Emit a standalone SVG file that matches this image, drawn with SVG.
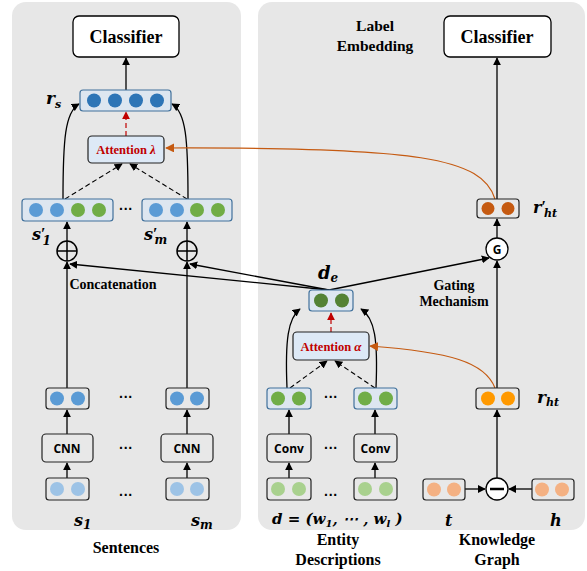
<svg xmlns="http://www.w3.org/2000/svg" width="587" height="571" viewBox="0 0 587 571">
<defs>
<marker id="ah" viewBox="0 0 10 10" refX="9" refY="5" markerWidth="8" markerHeight="8" markerUnits="userSpaceOnUse" orient="auto"><path d="M0,0 L10,5 L0,10 z" fill="#000"/></marker>
<marker id="ahr" viewBox="0 0 10 10" refX="9" refY="5" markerWidth="8" markerHeight="8" markerUnits="userSpaceOnUse" orient="auto"><path d="M0,0 L10,5 L0,10 z" fill="#c00000"/></marker>
<marker id="aho" viewBox="0 0 10 10" refX="9" refY="5" markerWidth="9" markerHeight="9" markerUnits="userSpaceOnUse" orient="auto"><path d="M0,0 L10,5 L0,10 z" fill="#c55a11"/></marker>
</defs>
<style>
.panel{fill:#e7e7e7;stroke:none}
.cls{fill:#fff;stroke:#000;stroke-width:1.3}
.ttl{font-family:"Liberation Serif",serif;font-weight:bold;font-size:18px;text-anchor:middle}
.lbl{font-family:"Liberation Serif",serif;font-weight:bold;font-size:14px;text-anchor:middle}
.big{font-size:16px}
.mid{font-size:15.5px}
.math{font-family:"DejaVu Serif","Liberation Serif",serif;font-weight:bold;font-style:italic;font-size:15px}
.pr{font-family:"Liberation Serif",serif;font-style:normal;font-weight:bold;font-size:16px}
.vb{fill:#dde6f0;stroke:#41719c;stroke-width:1.2}
.vk{fill:#e8e8e8;stroke:#222;stroke-width:1.2}
.op{fill:#e8e8e8;stroke:#222;stroke-width:1.2}
.opt{font-family:"Open Sans","Liberation Sans",sans-serif;font-weight:bold;font-size:12px;text-anchor:middle}
.att{fill:#dde9f6;stroke:#222;stroke-width:1.2}
.attt{font-family:"Liberation Serif",serif;font-weight:bold;font-size:12.5px;fill:#c00000;text-anchor:middle}
.dots{font-family:"Liberation Sans",sans-serif;font-weight:bold;font-size:14px;text-anchor:middle}
.ln{fill:none;stroke:#000;stroke-width:1.3}
.dash{fill:none;stroke:#000;stroke-width:1.1;stroke-dasharray:5,3}
.rdash{fill:none;stroke:#c00000;stroke-width:1.2;stroke-dasharray:5,3}
.orn{fill:none;stroke:#c55a11;stroke-width:1.2}
.c1{fill:#2e75b6}.c2{fill:#5b9bd5}.c3{fill:#70ad47}.c4{fill:#9dc3e6}.c5{fill:#548235}.c6{fill:#a9d18e}.c7{fill:#c55a11}.c8{fill:#ff9900}.c9{fill:#f4b183}
</style>
<rect class="panel" x="12" y="2" width="229" height="528" rx="14"/>
<rect class="panel" x="258" y="2" width="327" height="528" rx="14"/>

<g id="connectors">
<line class="ln" x1="126" y1="90" x2="126" y2="58" marker-end="url(#ah)"/>
<line class="rdash" x1="126" y1="136" x2="126" y2="112" marker-end="url(#ahr)"/>
<line class="dash" x1="65" y1="199" x2="122" y2="164" marker-end="url(#ah)"/>
<line class="dash" x1="187" y1="199" x2="130" y2="164" marker-end="url(#ah)"/>
<path class="ln" d="M63 199 C63 140 65 112 79 104" marker-end="url(#ah)"/>
<path class="ln" d="M188 199 C188 140 186 112 172 104" marker-end="url(#ah)"/>
<line class="ln" x1="67" y1="241" x2="67" y2="222" marker-end="url(#ah)"/>
<line class="ln" x1="187" y1="241" x2="187" y2="222" marker-end="url(#ah)"/>
<line class="ln" x1="67" y1="388" x2="67" y2="262" marker-end="url(#ah)"/>
<line class="ln" x1="187" y1="388" x2="187" y2="262" marker-end="url(#ah)"/>
<line class="ln" x1="329" y1="290" x2="70" y2="264" marker-end="url(#ah)"/>
<line class="ln" x1="329" y1="290" x2="190" y2="264" marker-end="url(#ah)"/>
<line class="ln" x1="329" y1="290" x2="489" y2="258" marker-end="url(#ah)"/>
<line class="ln" x1="67" y1="434" x2="67" y2="410" marker-end="url(#ah)"/>
<line class="ln" x1="187" y1="434" x2="187" y2="410" marker-end="url(#ah)"/>
<line class="ln" x1="67" y1="478" x2="67" y2="463" marker-end="url(#ah)"/>
<line class="ln" x1="187" y1="478" x2="187" y2="463" marker-end="url(#ah)"/>
<line class="ln" x1="289" y1="434" x2="289" y2="410" marker-end="url(#ah)"/>
<line class="ln" x1="375" y1="434" x2="375" y2="410" marker-end="url(#ah)"/>
<line class="ln" x1="289" y1="478" x2="289" y2="463" marker-end="url(#ah)"/>
<line class="ln" x1="375" y1="478" x2="375" y2="463" marker-end="url(#ah)"/>
<line class="rdash" x1="331" y1="332" x2="331" y2="313" marker-end="url(#ahr)"/>
<line class="dash" x1="290" y1="388" x2="327" y2="361" marker-end="url(#ah)"/>
<line class="dash" x1="375" y1="388" x2="335" y2="361" marker-end="url(#ah)"/>
<path class="ln" d="M287 388 C285 340 288 318 300 309" marker-end="url(#ah)"/>
<path class="ln" d="M376 388 C378 340 375 318 361 309" marker-end="url(#ah)"/>
<line class="ln" x1="497" y1="199" x2="497" y2="58" marker-end="url(#ah)"/>
<line class="ln" x1="497" y1="238" x2="497" y2="219" marker-end="url(#ah)"/>
<line class="ln" x1="497" y1="388" x2="497" y2="261" marker-end="url(#ah)"/>
<line class="ln" x1="497" y1="478" x2="497" y2="410" marker-end="url(#ah)"/>
<line class="ln" x1="465" y1="489" x2="485" y2="489" marker-end="url(#ah)"/>
<line class="ln" x1="532" y1="489" x2="509" y2="489" marker-end="url(#ah)"/>
<path class="orn" d="M495 199 C482 158 420 147 166 148" marker-end="url(#aho)"/>
<path class="orn" d="M495 388 C485 362 450 352 370 346" marker-end="url(#aho)"/>
</g>

<g id="classifier-left"><rect class="cls" x="73" y="16" width="106" height="41" rx="6"/><text class="ttl" x="126" y="42.5">Classifier</text></g>
<g id="rs"><rect class="vb" x="80" y="90" width="91" height="21" rx="3"/>
<circle class="c1" cx="94" cy="100.5" r="7"/><circle class="c1" cx="115" cy="100.5" r="7"/><circle class="c1" cx="136" cy="100.5" r="7"/><circle class="c1" cx="157" cy="100.5" r="7"/>
<text class="math" x="46" y="104" style="font-size:17px">r<tspan font-size="11" dy="4">s</tspan></text></g>
<g id="attention-lambda"><rect class="att" x="88" y="136" width="76" height="27" rx="4"/><text class="attt" x="126" y="154">Attention <tspan font-style="italic" font-size="13">λ</tspan></text></g>
<g id="s1p"><rect class="vb" x="22" y="199" width="91" height="22" rx="3"/>
<circle class="c2" cx="36" cy="210" r="7"/><circle class="c2" cx="57" cy="210" r="7"/><circle class="c3" cx="78" cy="210" r="7"/><circle class="c3" cx="99" cy="210" r="7"/>
<text class="math" x="32" y="240" style="font-size:16px">s<tspan class="pr" dy="-1">′</tspan><tspan font-size="12" dx="-3" dy="6">1</tspan></text></g>
<text class="dots" x="126" y="214">···</text>
<g id="smp"><rect class="vb" x="142" y="199" width="90" height="22" rx="3"/>
<circle class="c2" cx="156" cy="210" r="7"/><circle class="c2" cx="177" cy="210" r="7"/><circle class="c3" cx="197" cy="210" r="7"/><circle class="c3" cx="218" cy="210" r="7"/>
<text class="math" x="144" y="240" style="font-size:16px">s<tspan class="pr" dy="-1">′</tspan><tspan font-size="12" dx="-3" dy="5">m</tspan></text></g>
<g id="oplus1"><circle cx="67" cy="251" r="10" fill="none" stroke="#000" stroke-width="1.5"/><line x1="57" y1="251" x2="77" y2="251" stroke="#000" stroke-width="1.5"/><line x1="67" y1="241" x2="67" y2="261" stroke="#000" stroke-width="1.5"/></g>
<g id="oplus2"><circle cx="187" cy="251" r="10" fill="none" stroke="#000" stroke-width="1.5"/><line x1="177" y1="251" x2="197" y2="251" stroke="#000" stroke-width="1.5"/><line x1="187" y1="241" x2="187" y2="261" stroke="#000" stroke-width="1.5"/></g>
<text class="lbl" x="113" y="289">Concatenation</text>

<g id="h1"><rect class="vk" x="46" y="388" width="43" height="21" rx="3"/><circle class="c2" cx="57" cy="398.5" r="7"/><circle class="c2" cx="78" cy="398.5" r="7"/></g>
<g id="hm"><rect class="vk" x="166" y="388" width="43" height="21" rx="3"/><circle class="c2" cx="177" cy="398.5" r="7"/><circle class="c2" cx="197" cy="398.5" r="7"/></g>
<text class="dots" x="126" y="402">···</text>
<g id="cnn1"><rect class="op" x="42" y="434" width="51" height="28" rx="4"/><text class="opt" x="67" y="452.5">CNN</text></g>
<g id="cnnm"><rect class="op" x="161" y="434" width="52" height="28" rx="4"/><text class="opt" x="187" y="452.5">CNN</text></g>
<text class="dots" x="126" y="453">···</text>
<g id="x1"><rect class="vk" x="46" y="478" width="43" height="22" rx="3"/><circle class="c4" cx="57" cy="489" r="7"/><circle class="c4" cx="78" cy="489" r="7"/></g>
<g id="xm"><rect class="vk" x="166" y="478" width="43" height="22" rx="3"/><circle class="c4" cx="177" cy="489" r="7"/><circle class="c4" cx="197" cy="489" r="7"/></g>
<text class="dots" x="126" y="500">···</text>
<text class="math" x="74" y="526" style="font-size:16px">s<tspan font-size="12" dy="3">1</tspan></text>
<text class="math" x="191" y="526" style="font-size:16px">s<tspan font-size="12" dy="3">m</tspan></text>
<text class="lbl big" x="126" y="553">Sentences</text>

<text class="lbl mid" x="375" y="31">Label</text>
<text class="lbl mid" x="375" y="51">Embedding</text>
<g id="classifier-right"><rect class="cls" x="444" y="16" width="107" height="41" rx="6"/><text class="ttl" x="497" y="42.5">Classifier</text></g>
<g id="rht-prime"><rect class="vk" x="477" y="199" width="42" height="19" rx="3"/><circle class="c7" cx="488" cy="208.5" r="6.5"/><circle class="c7" cx="508" cy="208.5" r="6.5"/>
<text class="math" x="533" y="213" style="font-size:16px">r<tspan class="pr" dy="-1">′</tspan><tspan font-size="11" dx="-2" dy="5">ht</tspan></text></g>
<g id="gate"><circle cx="497" cy="249" r="11" fill="#fff" stroke="#000" stroke-width="1.3"/><text class="opt" x="497" y="253.5">G</text></g>
<text class="lbl" x="454" y="290">Gating</text>
<text class="lbl" x="454" y="306">Mechanism</text>
<g id="de"><rect class="vb" x="309" y="290" width="44" height="21" rx="3"/><circle class="c5" cx="321" cy="300.5" r="7"/><circle class="c5" cx="342" cy="300.5" r="7"/>
<text class="math" x="318" y="279" style="font-size:18px">d<tspan font-size="12" dy="3">e</tspan></text></g>
<g id="attention-alpha"><rect class="att" x="293" y="332" width="76" height="28" rx="4"/><text class="attt" x="331" y="350.5">Attention <tspan font-style="italic" font-size="13">α</tspan></text></g>
<g id="e1"><rect class="vb" x="267" y="388" width="44" height="21" rx="3"/><circle class="c3" cx="278" cy="398.5" r="7"/><circle class="c3" cx="299" cy="398.5" r="7"/></g>
<g id="el"><rect class="vb" x="354" y="388" width="43" height="21" rx="3"/><circle class="c3" cx="365" cy="398.5" r="7"/><circle class="c3" cx="386" cy="398.5" r="7"/></g>
<text class="dots" x="331" y="402">···</text>
<g id="conv1"><rect class="op" x="267" y="434" width="44" height="28" rx="4"/><text class="opt" x="289" y="452.5">Conv</text></g>
<g id="convl"><rect class="op" x="354" y="434" width="43" height="28" rx="4"/><text class="opt" x="375.5" y="452.5">Conv</text></g>
<text class="dots" x="331" y="453">···</text>
<g id="w1"><rect class="vk" x="267" y="478" width="44" height="22" rx="3"/><circle class="c6" cx="278" cy="489" r="7"/><circle class="c6" cx="299" cy="489" r="7"/></g>
<g id="wl"><rect class="vk" x="354" y="478" width="43" height="22" rx="3"/><circle class="c6" cx="365" cy="489" r="7"/><circle class="c6" cx="386" cy="489" r="7"/></g>
<text class="dots" x="331" y="500">···</text>
<text class="math" x="272" y="524">d = (w<tspan font-size="10" dy="3">1</tspan><tspan dy="-3">, ⋯ , w</tspan><tspan font-size="10" dy="3">l</tspan><tspan dy="-3"> )</tspan></text>
<text class="lbl big" x="338" y="545">Entity</text>
<text class="lbl big" x="338" y="565">Descriptions</text>
<g id="rht"><rect class="vk" x="476" y="388" width="43" height="21" rx="3"/><circle class="c8" cx="488" cy="398.5" r="7"/><circle class="c8" cx="508" cy="398.5" r="7"/>
<text class="math" x="537" y="403" style="font-size:17px">r<tspan font-size="11" dy="3">ht</tspan></text></g>
<g id="minus"><circle cx="497" cy="489" r="11" fill="#fff" stroke="#000" stroke-width="1.3"/><line x1="490" y1="489" x2="504" y2="489" stroke="#000" stroke-width="2.5"/></g>
<g id="t"><rect class="vk" x="423" y="479" width="42" height="21" rx="3"/><circle class="c9" cx="434" cy="489.5" r="7"/><circle class="c9" cx="454" cy="489.5" r="7"/>
<text class="math" x="445" y="526" style="font-size:16px">t</text></g>
<g id="h"><rect class="vk" x="532" y="479" width="42" height="21" rx="3"/><circle class="c9" cx="542" cy="489.5" r="7"/><circle class="c9" cx="562" cy="489.5" r="7"/>
<text class="math" x="550" y="526" style="font-size:16px">h</text></g>
<text class="lbl big" x="497" y="545">Knowledge</text>
<text class="lbl big" x="497" y="565">Graph</text>
</svg>
